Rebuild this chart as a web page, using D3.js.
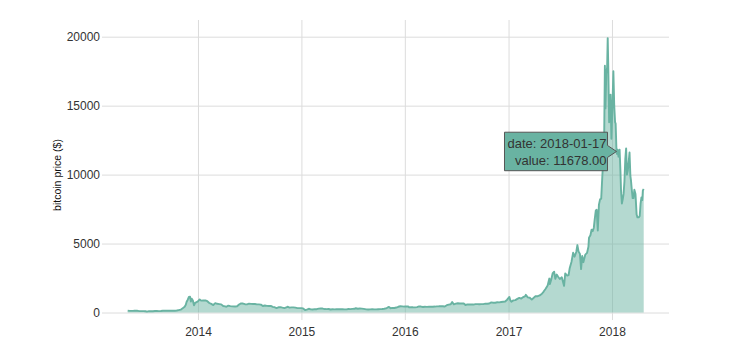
<!DOCTYPE html>
<html>
<head>
<meta charset="utf-8">
<script src="https://cdn.jsdelivr.net/npm/d3@7"></script>
<style>
  html, body { margin: 0; padding: 0; background: #fff; }
  svg { display: block; font-family: "Liberation Sans", Arial, Helvetica, sans-serif; }
</style>
</head>
<body>
<svg id="chart" width="729" height="357"></svg>
<script>
// ---- data ----
const dates = [
"2013-04-28","2013-05-05","2013-05-12","2013-05-19","2013-05-26","2013-06-02","2013-06-09","2013-06-16","2013-06-23","2013-06-30",
"2013-07-05","2013-07-12","2013-07-19","2013-07-26","2013-08-02","2013-08-09","2013-08-16","2013-08-23","2013-08-30","2013-09-06",
"2013-09-13","2013-09-20","2013-09-27","2013-10-04","2013-10-11","2013-10-18","2013-10-25","2013-11-01","2013-11-08","2013-11-15",
"2013-11-19","2013-11-22","2013-11-26","2013-11-30","2013-12-04","2013-12-07","2013-12-10","2013-12-14","2013-12-18","2013-12-22",
"2013-12-27","2014-01-03","2014-01-07","2014-01-12","2014-01-20","2014-01-27","2014-02-03","2014-02-10","2014-02-17","2014-02-24",
"2014-03-03","2014-03-10","2014-03-17","2014-03-24","2014-03-31","2014-04-07","2014-04-11","2014-04-18","2014-04-25","2014-05-02",
"2014-05-12","2014-05-19","2014-05-26","2014-06-02","2014-06-09","2014-06-16","2014-06-23","2014-06-30","2014-07-07","2014-07-14",
"2014-07-21","2014-07-28","2014-08-04","2014-08-11","2014-08-18","2014-08-25","2014-09-01","2014-09-08","2014-09-15","2014-09-22",
"2014-09-29","2014-10-05","2014-10-12","2014-10-19","2014-10-26","2014-11-02","2014-11-09","2014-11-13","2014-11-20","2014-11-27",
"2014-12-04","2014-12-11","2014-12-18","2014-12-25","2015-01-01","2015-01-07","2015-01-14","2015-01-20","2015-01-27","2015-02-03",
"2015-02-10","2015-02-17","2015-02-24","2015-03-03","2015-03-10","2015-03-17","2015-03-24","2015-03-31","2015-04-07","2015-04-14",
"2015-04-21","2015-04-28","2015-05-05","2015-05-12","2015-05-19","2015-05-26","2015-06-02","2015-06-09","2015-06-16","2015-06-23",
"2015-06-30","2015-07-07","2015-07-12","2015-07-19","2015-07-26","2015-08-02","2015-08-09","2015-08-18","2015-08-25","2015-09-01",
"2015-09-08","2015-09-15","2015-09-22","2015-09-29","2015-10-06","2015-10-13","2015-10-20","2015-10-27","2015-11-04","2015-11-08",
"2015-11-11","2015-11-18","2015-11-25","2015-12-02","2015-12-09","2015-12-16","2015-12-23","2015-12-30","2016-01-06","2016-01-13",
"2016-01-16","2016-01-23","2016-01-30","2016-02-06","2016-02-13","2016-02-20","2016-02-27","2016-03-05","2016-03-12","2016-03-19",
"2016-03-26","2016-04-02","2016-04-09","2016-04-16","2016-04-23","2016-04-30","2016-05-07","2016-05-14","2016-05-21","2016-05-28",
"2016-06-04","2016-06-11","2016-06-16","2016-06-22","2016-06-29","2016-07-06","2016-07-13","2016-07-20","2016-07-27","2016-08-02",
"2016-08-09","2016-08-16","2016-08-23","2016-08-30","2016-09-06","2016-09-13","2016-09-20","2016-09-27","2016-10-04","2016-10-11",
"2016-10-18","2016-10-25","2016-11-01","2016-11-08","2016-11-15","2016-11-22","2016-11-29","2016-12-06","2016-12-13","2016-12-20",
"2016-12-27","2017-01-04","2017-01-07","2017-01-11","2017-01-18","2017-01-25","2017-02-01","2017-02-08","2017-02-15","2017-02-22",
"2017-03-01","2017-03-03","2017-03-10","2017-03-17","2017-03-24","2017-03-31","2017-04-07","2017-04-14","2017-04-21","2017-04-28",
"2017-05-05","2017-05-12","2017-05-19","2017-05-25","2017-05-27","2017-06-01","2017-06-06","2017-06-11","2017-06-15","2017-06-20",
"2017-06-25","2017-07-01","2017-07-08","2017-07-16","2017-07-20","2017-07-27","2017-08-01","2017-08-05","2017-08-11","2017-08-17",
"2017-08-22","2017-08-28","2017-09-01","2017-09-05","2017-09-10","2017-09-14","2017-09-18","2017-09-22","2017-09-29","2017-10-05",
"2017-10-10","2017-10-12","2017-10-17","2017-10-21","2017-10-25","2017-10-29","2017-11-01","2017-11-05","2017-11-08","2017-11-12",
"2017-11-16","2017-11-20","2017-11-24","2017-11-28","2017-12-01","2017-12-04","2017-12-07","2017-12-09","2017-12-12","2017-12-15",
"2017-12-17","2017-12-19","2017-12-22","2017-12-24","2017-12-27","2017-12-30","2018-01-03","2018-01-06","2018-01-09","2018-01-12",
"2018-01-14","2018-01-17","2018-01-19","2018-01-21","2018-01-24","2018-01-28","2018-01-31","2018-02-02","2018-02-05","2018-02-08",
"2018-02-11","2018-02-14","2018-02-17","2018-02-20","2018-02-23","2018-02-26","2018-03-01","2018-03-04","2018-03-07","2018-03-09",
"2018-03-12","2018-03-15","2018-03-18","2018-03-21","2018-03-25","2018-03-29","2018-04-01","2018-04-06","2018-04-09","2018-04-12",
"2018-04-15","2018-04-18","2018-04-20","2018-04-23"
];
const prices = [
135,115,117,122,131,122,100,100,103,89,
68,95,90,95,105,104,99,110,128,124,
130,125,128,122,124,145,175,205,310,420,
560,780,930,1130,1150,800,1000,870,520,700,
750,860,950,860,870,880,820,690,620,540,
680,630,610,590,470,440,420,500,460,445,
440,450,580,660,650,600,590,640,625,620,
620,590,590,570,470,510,480,475,475,410,
380,320,380,390,350,320,365,420,355,370,
370,350,320,320,315,295,180,210,270,225,
220,245,240,280,290,285,250,245,255,220,
235,228,235,240,232,237,225,230,250,245,
265,270,310,275,290,280,265,230,220,230,
245,230,230,237,245,250,270,295,400,380,
310,335,325,360,415,455,445,430,430,430,
375,390,380,375,390,440,430,400,415,410,
415,420,420,430,445,450,460,455,440,530,
575,600,760,590,640,670,655,665,655,545,
590,580,585,575,610,610,600,605,610,640,
635,655,730,710,710,740,735,760,780,800,
930,1130,900,780,880,895,985,1060,1010,1120,
1190,1280,1100,1070,935,1070,1190,1180,1240,1340,
1520,1720,1960,2460,2060,2420,2860,2960,2440,2750,
2590,2430,2550,1930,2830,2680,2720,3230,3660,4330,
4050,4390,4890,4430,4250,3150,4100,3650,4200,4320,
4780,5430,5600,6000,5900,6150,6740,7400,7450,5950,
7820,8200,8250,9900,10900,11600,17900,14800,17300,17800,
19900,17800,13800,14000,15800,12600,15200,17500,15000,13800,
13700,11678,11500,11800,11300,11800,10200,8850,7900,8200,
8600,9500,11100,11900,10000,10300,10900,11600,9900,9600,
8900,8300,8300,8900,8600,7100,6900,6900,7000,7900,
8350,8150,8850,8950
];
const xTickLabels = ["2014", "2015", "2016", "2017", "2018"];
const yTickValues = [0, 5000, 10000, 15000, 20000];
const tooltipDate = "2018-01-17";
const tooltipValue = 11678;

// ---- chart ----
const parse = d3.utcParse("%Y-%m-%d");
const data = dates.map((d, i) => ({ date: parse(d), value: prices[i] }));

const svg = d3.select("#chart");
const color = "#69b3a2";

const x = d3.scaleUtc()
  .domain(d3.extent(data, d => d.date))
  .range([127.7, 643.7]);
const y = d3.scaleLinear()
  .domain([0, 20000])
  .range([312.5, 36.7]);

const gridLeft = 102, gridRight = 669, gridTop = 20, gridBottom = 320;

// Y axis with gridlines
const yAxis = svg.append("g")
  .attr("transform", `translate(${gridLeft},0)`)
  .call(d3.axisLeft(y).tickValues(yTickValues).tickFormat(d3.format("d"))
    .tickSize(-(gridRight - gridLeft)).tickPadding(2));
yAxis.select(".domain").remove();
yAxis.selectAll(".tick line").attr("stroke", "#dcdcdc").attr("stroke-width", 1);
yAxis.selectAll(".tick text").attr("fill", "#333").style("font-size", "12px")
  .style("font-family", "'Liberation Sans', Arial, sans-serif");

// X axis with gridlines
const xTickDates = xTickLabels.map(s => parse(s + "-01-01"));
const xAxis = svg.append("g")
  .attr("transform", `translate(0,${gridBottom})`)
  .call(d3.axisBottom(x).tickValues(xTickDates).tickFormat(d3.utcFormat("%Y"))
    .tickSize(-(gridBottom - gridTop)).tickPadding(7));
xAxis.select(".domain").remove();
xAxis.selectAll(".tick line").attr("stroke", "#dcdcdc").attr("stroke-width", 1);
xAxis.selectAll(".tick text").attr("fill", "#333").style("font-size", "12px")
  .style("font-family", "'Liberation Sans', Arial, sans-serif");

// Y label
svg.append("text")
  .attr("transform", "translate(61,175) rotate(-90)")
  .attr("text-anchor", "middle")
  .attr("fill", "#111")
  .style("font-size", "10.5px")
  .text("bitcoin price ($)");

// Area + line
svg.append("path")
  .datum(data)
  .attr("fill", color)
  .attr("fill-opacity", 0.5)
  .attr("d", d3.area().x(d => x(d.date)).y0(y(0)).y1(d => y(d.value)));

svg.append("path")
  .datum(data)
  .attr("fill", "none")
  .attr("stroke", color)
  .attr("stroke-width", 1.9)
  .attr("stroke-linejoin", "round")
  .attr("d", d3.line().x(d => x(d.date)).y(d => y(d.value)));

// Tooltip
const px = x(parse(tooltipDate)), py = y(tooltipValue);
const arrowW = 9, arrowH = 6, boxW = 103, boxH = 38.5;
const bx1 = px - arrowW, bx0 = bx1 - boxW, by0 = py - boxH / 2, by1 = py + boxH / 2;
svg.append("path")
  .attr("d", `M${bx0},${by0}H${bx1}V${py - arrowH}L${px},${py}L${bx1},${py + arrowH}V${by1}H${bx0}Z`)
  .attr("fill", color)
  .attr("stroke", "#555")
  .attr("stroke-width", 1);
const tt = svg.append("g").attr("fill", "#333").style("font-size", "13px");
tt.append("text").attr("x", bx1 - 1).attr("y", py - 3.5).attr("text-anchor", "end")
  .text("date: " + tooltipDate);
tt.append("text").attr("x", bx1 - 1).attr("y", py + 13.5).attr("text-anchor", "end")
  .text("value: " + tooltipValue.toFixed(2));
</script>
</body>
</html>
